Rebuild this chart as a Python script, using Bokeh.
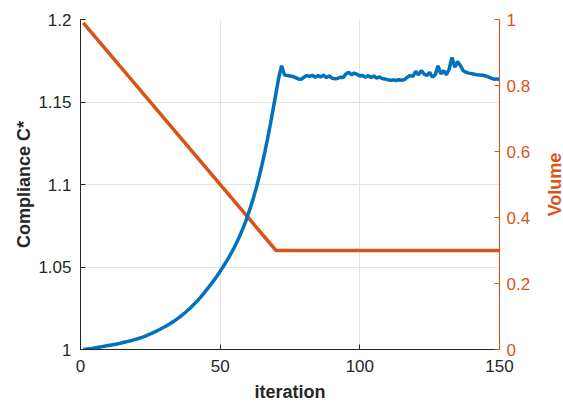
import math
from bokeh.plotting import figure
from bokeh.layouts import row
from bokeh.models import Range1d, LinearAxis, FixedTicker, CustomJSTickFormatter, Label
from bokeh.embed import file_html
from bokeh.resources import INLINE

iterations = list(range(1, 151))
compliance = [
    1.0000, 1.0002, 1.0004, 1.0006, 1.0009, 1.0012, 1.0015, 1.0018, 1.0021, 1.0024,
    1.0027, 1.0030, 1.0033, 1.0037, 1.0041, 1.0045, 1.0049, 1.0053, 1.0058, 1.0063,
    1.0068, 1.0074, 1.0080, 1.0087, 1.0094, 1.0102, 1.0110, 1.0118, 1.0127, 1.0136,
    1.0146, 1.0156, 1.0167, 1.0178, 1.0190, 1.0203, 1.0217, 1.0232, 1.0247, 1.0263,
    1.0280, 1.0298, 1.0317, 1.0337, 1.0358, 1.0380, 1.0402, 1.0425, 1.0449, 1.0474,
    1.0500, 1.0527, 1.0555, 1.0585, 1.0617, 1.0651, 1.0688, 1.0728, 1.0771, 1.0818,
    1.0869, 1.0924, 1.0984, 1.1050, 1.1122, 1.1198, 1.1280, 1.1368, 1.1460, 1.1555,
    1.1650, 1.1720, 1.1665, 1.1660, 1.1658, 1.1655, 1.1648, 1.1640, 1.1638, 1.1650,
    1.1660, 1.1655, 1.1662, 1.1650, 1.1660, 1.1652, 1.1663, 1.1648, 1.1658, 1.1645,
    1.1640, 1.1643, 1.1650, 1.1648, 1.1670, 1.1680, 1.1665, 1.1675, 1.1668, 1.1658,
    1.1660, 1.1650, 1.1660, 1.1648, 1.1658, 1.1645, 1.1652, 1.1642, 1.1640, 1.1635,
    1.1632, 1.1634, 1.1630, 1.1635, 1.1632, 1.1636, 1.1650, 1.1660, 1.1655, 1.1685,
    1.1665, 1.1690, 1.1670, 1.1660, 1.1680, 1.1650, 1.1665, 1.1720, 1.1670, 1.1690,
    1.1665, 1.1700, 1.1770, 1.1710, 1.1745, 1.1720, 1.1690, 1.1680, 1.1675, 1.1672,
    1.1668, 1.1665, 1.1664, 1.1662, 1.1658, 1.1652, 1.1645, 1.1638, 1.1640, 1.1636,
]
volume_iter = [1, 70, 150]
volume = [0.99, 0.30, 0.30]

x_ticks = [0, 50, 100, 150]
y_ticks = [1.0, 1.05, 1.1, 1.15, 1.2]
y2_ticks = [0, 0.2, 0.4, 0.6, 0.8, 1.0]

BLUE = "#0072BD"
ORANGE = "#D95319"
DARK = "#262626"
FONT = "Liberation Sans"

p = figure(width=543, height=406, output_backend="svg", toolbar_location=None,
           x_range=Range1d(0, 150), y_range=Range1d(1.0, 1.2))
p.min_border_left = 80
p.min_border_right = 44
p.min_border_top = 19
p.min_border_bottom = 57
p.outline_line_color = None
p.background_fill_color = "white"
p.border_fill_color = "white"

p.extra_y_ranges = {"vol": Range1d(0, 1)}

fmt = CustomJSTickFormatter(code="return String(Number(tick.toFixed(4)));")

p.xgrid.ticker = FixedTicker(ticks=x_ticks)
p.ygrid.ticker = FixedTicker(ticks=y_ticks)
for g in (p.xgrid, p.ygrid):
    g.grid_line_color = "#e3e3e3"
    g.grid_line_width = 1

def style_axis(ax, color):
    ax.axis_line_color = color
    ax.axis_line_width = 1
    ax.major_tick_line_color = color
    ax.major_tick_in = 5
    ax.major_tick_out = 0
    ax.minor_tick_line_color = None
    ax.major_label_text_color = color
    ax.major_label_text_font = FONT
    ax.major_label_text_font_size = "17px"
    ax.axis_label_text_font = FONT
    ax.axis_label_text_font_size = "18px"
    ax.axis_label_text_font_style = "bold"
    ax.axis_label_text_color = color
    ax.formatter = fmt

xa = p.xaxis[0]
style_axis(xa, DARK)
xa.ticker = FixedTicker(ticks=x_ticks)
xa.axis_label = "iteration"
xa.major_label_standoff = 10
xa.axis_label_standoff = 7

ya = p.yaxis[0]
style_axis(ya, DARK)
ya.ticker = FixedTicker(ticks=y_ticks)
ya.axis_label = "Compliance C*"
ya.major_label_standoff = 9
ya.axis_label_standoff = 1

ra = LinearAxis(y_range_name="vol")
style_axis(ra, ORANGE)
ra.ticker = FixedTicker(ticks=y2_ticks)
ra.major_label_standoff = 7
p.add_layout(ra, "right")

p.line(volume_iter, volume, y_range_name="vol", line_color=ORANGE, line_width=3.5)
p.line(iterations, compliance, line_color=BLUE, line_width=3.5)

# right-hand axis title in a narrow side panel (frame aligns with the main frame)
side = figure(width=20, height=406, output_backend="svg", toolbar_location=None,
              x_range=Range1d(0, 1), y_range=Range1d(0, 1),
              x_axis_location=None, y_axis_location=None, min_border=0)
side.grid.visible = False
side.outline_line_color = None
side.border_fill_color = "white"
side.background_fill_color = "white"
side.add_layout(Label(x=11, y=165, x_units="screen", y_units="screen", text="Volume",
                      angle=math.pi / 2, text_align="center", text_baseline="middle",
                      text_font=FONT, text_font_size="18px", text_font_style="bold",
                      text_color=ORANGE))

layout = row(p, side, spacing=0)
open("out.html", "w").write(file_html(layout, INLINE))
